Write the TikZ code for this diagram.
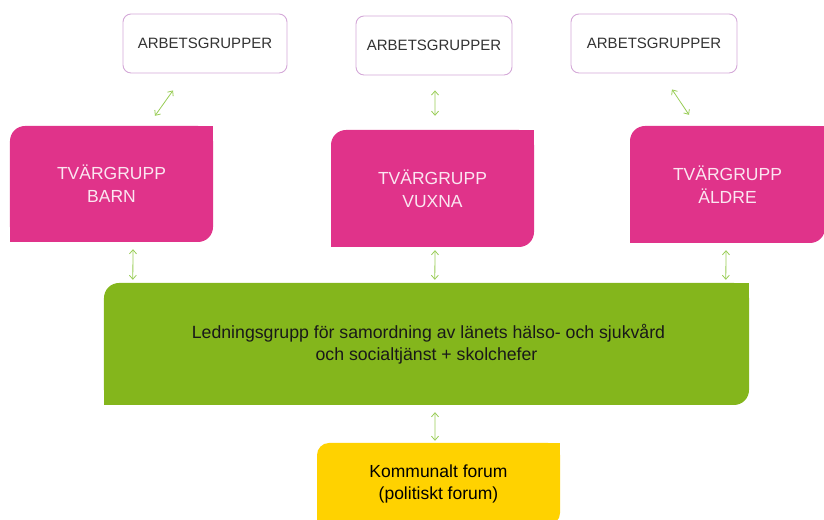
\documentclass[tikz,border=0pt]{standalone}
\usepackage{fontspec}
\setmainfont{Liberation Sans}
\usetikzlibrary{arrows.meta}
\definecolor{pinkc}{HTML}{E0338A}
\definecolor{greenc}{HTML}{84B61C}
\definecolor{yellowc}{HTML}{FFD200}
\definecolor{arrowc}{HTML}{98CC55}
\definecolor{edgec}{HTML}{D4A8D8}
\definecolor{pinktext}{HTML}{FBE6F1}
\tikzset{
  arbbox/.style={draw=edgec, line width=0.9bp, fill=white, rounded corners=8bp,
    inner sep=0pt, text=black!80, font=\fontsize{15bp}{18bp}\selectfont},
  pinkbox/.style={fill=pinkc, rounded corners=15bp, inner sep=0pt, align=center,
    text=pinktext, font=\fontsize{17.5bp}{23bp}\selectfont},
  greenbox/.style={fill=greenc, rounded corners=15bp, inner sep=0pt, align=center,
    text=black!90, font=\fontsize{17.7bp}{22bp}\selectfont},
  yellowbox/.style={fill=yellowc, rounded corners=12bp, inner sep=0pt, align=center,
    text=black, font=\fontsize{17.5bp}{22bp}\selectfont},
  conn/.style={draw=arrowc, line width=0.8bp,
    {Straight Barb[length=4bp,width=7bp]}-{Straight Barb[length=4bp,width=7bp]}},
}
\begin{document}
\begin{tikzpicture}[x=1bp,y=1bp]
\useasboundingbox (0,0) rectangle (824,520);
\clip (0,0) rectangle (824,520);
% top boxes
\node[arbbox, minimum width=164bp, minimum height=59bp] (a1) at (205,476.5) {ARBETSGRUPPER};
\node[arbbox, minimum width=156bp, minimum height=59bp] (a2) at (434,474.5) {ARBETSGRUPPER};
\node[arbbox, minimum width=166bp, minimum height=59bp] (a3) at (654,476.5) {ARBETSGRUPPER};
% pink boxes
\node[pinkbox, minimum width=203bp, minimum height=116bp] (b1) at (111.5,336) {TVÄRGRUPP\\BARN};
\node[pinkbox, minimum width=203bp, minimum height=117bp] (b2) at (432.5,331.5) {TVÄRGRUPP\\VUXNA};
\node[pinkbox, minimum width=195bp, minimum height=117bp] (b3) at (727.5,335.5) {TVÄRGRUPP\\ÄLDRE};
\foreach \n in {b1,b2,b3}{
  \fill[pinkc] (\n.north east) rectangle ++(-18,-18);
  \fill[pinkc] (\n.south west) rectangle ++(18,18);
}
% green box
\node[greenbox, minimum width=645bp, minimum height=122bp] (g) at (426.5,176)
  {\raisebox{-7bp}{\parbox{520bp}{\centering\hspace*{4bp}Ledningsgrupp för samordning av länets hälso- och sjukvård\\och socialtjänst + skolchefer}}};
\fill[greenc] (g.north east) rectangle ++(-18,-18);
\fill[greenc] (g.south west) rectangle ++(18,18);
% yellow box
\node[yellowbox, minimum width=243bp, minimum height=82bp] (y) at (438.5,36) {Kommunalt forum\\(politiskt forum)};
\fill[yellowc] (y.north east) rectangle ++(-15,-15);
\fill[yellowc] (y.south west) rectangle ++(15,15);
% connectors
\draw[conn] ([shift={(-32,-17)}]a1.south) -- ([shift={(43.5,10)}]b1.north);
\draw[conn] ([shift={(1,-15)}]a2.south) -- ([shift={(2.5,14)}]b2.north);
\draw[conn] ([shift={(18,-16)}]a3.south) -- ([shift={(-38.5,11)}]b3.north);
\draw[conn] ([shift={(21.5,-7)}]b1.south) -- ([shift={(29,3)}]g.north west);
\draw[conn] ([shift={(2.5,-3)}]b2.south) -- ([shift={(331,3)}]g.north west);
\draw[conn] ([shift={(-1.5,-7)}]b3.south) -- ([shift={(622,3)}]g.north west);
\draw[conn] ([shift={(8.5,-7)}]g.south) -- ([shift={(-3.5,2)}]y.north);
\end{tikzpicture}
\end{document}
